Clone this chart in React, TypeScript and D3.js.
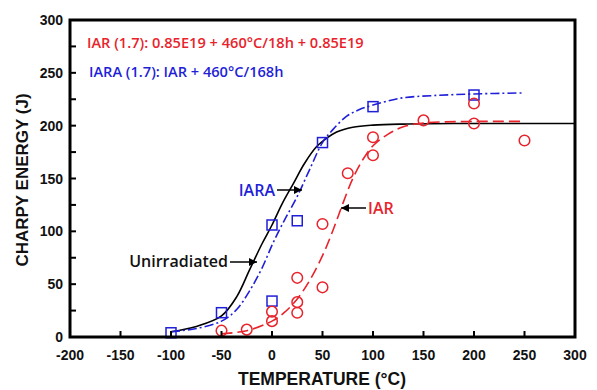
import React from 'react';
import * as d3 from 'd3';

// measured points (°C, J)
const iarPoints: [number, number][] = [
  [-50, 6], [-25, 7], [0, 24], [0, 15], [25, 56], [25, 33], [25, 23],
  [50, 107], [50, 47], [75, 155], [100, 172], [100, 189], [150, 205],
  [200, 221], [200, 202], [250, 186],
];
const iaraPoints: [number, number][] = [
  [-100, 4], [-50, 23], [0, 106], [0, 34], [25, 110], [50, 184],
  [100, 218], [200, 229],
];

// fitted curves
const unirrCurve: [number, number][] = [
  [-100, 5], [-75, 10], [-50, 20], [-35, 38], [-22, 64], [-10, 88], [0, 106],
  [10, 126], [21, 145], [32, 164], [44, 180], [54, 188], [64, 194], [80, 198.5],
  [100, 200.5], [130, 201.5], [180, 202], [300, 202],
];
const iaraCurve: [number, number][] = [
  [-100, 5], [-75, 8], [-50, 15], [-35, 26], [-22, 44], [-10, 65], [1, 89],
  [12, 110], [25, 133], [37, 158], [50, 184], [60, 196], [74, 209], [86, 215],
  [100, 219.5], [127, 226], [160, 228.5], [200, 230], [248, 231],
];
const iarCurve: [number, number][] = [
  [-50, 3], [-25, 6], [0, 15], [12, 23], [25, 36], [37, 53], [50, 77], [60, 100],
  [70, 126], [80, 150], [90, 168], [100, 181], [115, 192], [130, 199], [150, 202.5],
  [200, 204], [248, 204],
];

const xTicks = [-200, -150, -100, -50, 0, 50, 100, 150, 200, 250, 300];
const yTicks = [0, 50, 100, 150, 200, 250, 300];
const yMinor = [25, 75, 125, 175, 225, 275];

const RED = '#e8232b';
const BLUE = '#1f1fd8';
const axisFont = '"Liberation Sans", Arial, sans-serif';
const noteFont = '"Open Sans", sans-serif';

const App = () => {
  const width = 597;
  const height = 390;
  const x = d3.scaleLinear().domain([-200, 300]).range([70, 575]);
  const y = d3.scaleLinear().domain([0, 300]).range([337, 20]);

  const line = d3.line<[number, number]>()
    .x(d => x(d[0]))
    .y(d => y(d[1]))
    .curve(d3.curveCatmullRom.alpha(0.5));

  return (
    <svg width={width} height={height} style={{ position: 'absolute', left: 0, top: 0, background: '#fff' }}>
      <defs>
        <marker id="arr" viewBox="0 -5 10 10" refX={10} refY={0} markerWidth={8} markerHeight={8}
          markerUnits="userSpaceOnUse" orient="auto">
          <path d="M0,-5L10,0L0,5Z" fill="#000" />
        </marker>
      </defs>

      {/* curves */}
      <path d={line(unirrCurve) || ''} fill="none" stroke="#000" strokeWidth={1.6} />
      <path d={line(iaraCurve) || ''} fill="none" stroke={BLUE} strokeWidth={1.6}
        strokeDasharray="9,3,2,3" />
      <path d={line(iarCurve) || ''} fill="none" stroke={RED} strokeWidth={1.6}
        strokeDasharray="11,5" />

      {/* markers */}
      {iaraPoints.map((d, i) => (
        <rect key={'s' + i} x={x(d[0]) - 5} y={y(d[1]) - 5} width={10} height={10}
          fill="none" stroke={BLUE} strokeWidth={1.5} />
      ))}
      {iarPoints.map((d, i) => (
        <circle key={'c' + i} cx={x(d[0])} cy={y(d[1])} r={5.3}
          fill="none" stroke={RED} strokeWidth={1.5} />
      ))}

      {/* frame */}
      <rect x={70} y={20} width={505} height={317} fill="none" stroke="#000" strokeWidth={3} />

      {/* ticks */}
      {xTicks.map(t => (
        <g key={'x' + t}>
          <line x1={x(t)} x2={x(t)} y1={y(0)} y2={y(0) - 6} stroke="#000" strokeWidth={2} />
          <text x={x(t)} y={360} textAnchor="middle" fontFamily={axisFont} fontWeight="bold"
            fontSize={14} fill="#111">{t}</text>
        </g>
      ))}
      {yTicks.map(t => (
        <g key={'y' + t}>
          <line x1={x(-200)} x2={x(-200) + 6} y1={y(t)} y2={y(t)} stroke="#000" strokeWidth={2} />
          <text x={63} y={y(t) + 5} textAnchor="end" fontFamily={axisFont} fontWeight="bold"
            fontSize={14} fill="#111">{t}</text>
        </g>
      ))}
      {yMinor.map(t => (
        <line key={'m' + t} x1={x(-200)} x2={x(-200) + 6} y1={y(t)} y2={y(t)} stroke="#000" strokeWidth={2} />
      ))}

      {/* axis titles */}
      <text x={322} y={385} textAnchor="middle" fontFamily={axisFont} fontWeight="bold"
        fontSize={17.5} fill="#111">TEMPERATURE (°C)</text>
      <text transform="translate(28,180) rotate(-90)" textAnchor="middle" fontFamily={axisFont}
        fontWeight="bold" fontSize={17} fill="#111">CHARPY ENERGY (J)</text>

      {/* notes */}
      <text x={87} y={48} fontFamily={noteFont} fontWeight={600} fontSize={14.6} fill={RED}>
        IAR (1.7): 0.85E19 + 460°C/18h + 0.85E19
      </text>
      <text x={89} y={77} fontFamily={noteFont} fontWeight={600} fontSize={14.6} fill={BLUE}>
        IARA (1.7): IAR + 460°C/168h
      </text>

      {/* curve labels */}
      <text x={275} y={196} textAnchor="end" fontFamily={noteFont} fontWeight={600} fontSize={16} fill={BLUE}>IARA</text>
      <line x1={277} x2={302} y1={190} y2={190} stroke="#000" strokeWidth={1.5} markerEnd="url(#arr)" />
      <text x={228} y={267} textAnchor="end" fontFamily={noteFont} fontWeight={600} fontSize={16} fill="#111">Unirradiated</text>
      <line x1={230} x2={257} y1={262} y2={262} stroke="#000" strokeWidth={1.5} markerEnd="url(#arr)" />
      <text x={368} y={214} fontFamily={noteFont} fontWeight={600} fontSize={16} fill={RED}>IAR</text>
      <line x1={366} x2={341} y1={208} y2={208} stroke="#000" strokeWidth={1.5} markerEnd="url(#arr)" />
    </svg>
  );
};

export default App;
